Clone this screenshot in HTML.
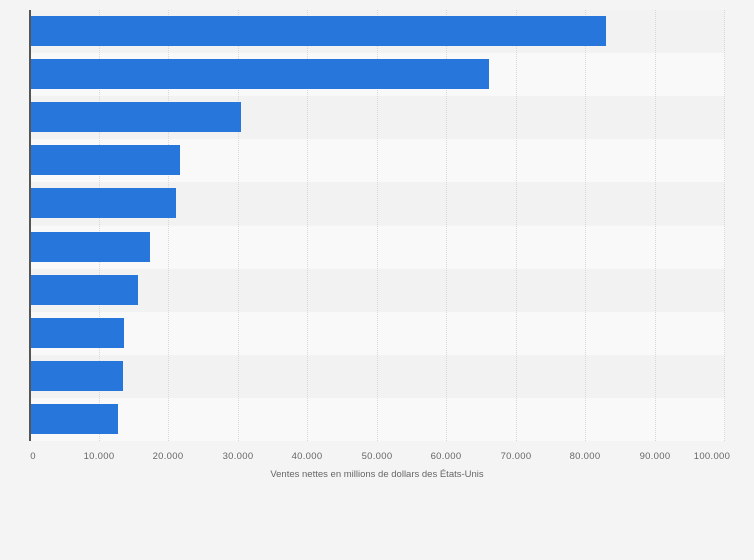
<!DOCTYPE html>
<html><head><style>
body{margin:0;width:754px;height:560px;background:#f4f4f4;font-family:"Liberation Sans",sans-serif;position:relative;overflow:hidden}
.band{position:absolute;left:30px;width:695px;height:43.1px}
.g{position:absolute;top:10px;height:431px;width:0;border-left:1px dotted #d8d8d8}
.bar{position:absolute;left:30px;height:30px;background:#2776dc}
.t{position:absolute;top:451px;font-size:9.5px;color:#666;width:60px;text-align:center;letter-spacing:0.3px}
</style></head><body>
<div class="band" style="top:10px;background:#f2f2f2"></div>
<div class="band" style="top:53.1px;background:#f9f9f9"></div>
<div class="band" style="top:96.2px;background:#f2f2f2"></div>
<div class="band" style="top:139.3px;background:#f9f9f9"></div>
<div class="band" style="top:182.4px;background:#f2f2f2"></div>
<div class="band" style="top:225.5px;background:#f9f9f9"></div>
<div class="band" style="top:268.6px;background:#f2f2f2"></div>
<div class="band" style="top:311.7px;background:#f9f9f9"></div>
<div class="band" style="top:354.8px;background:#f2f2f2"></div>
<div class="band" style="top:397.9px;background:#f9f9f9"></div>
<div class="g" style="left:98.5px"></div><div class="g" style="left:168px"></div><div class="g" style="left:237.5px"></div><div class="g" style="left:307px"></div><div class="g" style="left:376.5px"></div><div class="g" style="left:446px"></div><div class="g" style="left:515.5px"></div><div class="g" style="left:585px"></div><div class="g" style="left:654.5px"></div><div class="g" style="left:724px"></div>
<div class="bar" style="top:16px;width:576px"></div>
<div class="bar" style="top:59px;width:459px"></div>
<div class="bar" style="top:102px;width:211px"></div>
<div class="bar" style="top:145px;width:150px"></div>
<div class="bar" style="top:188px;width:146px"></div>
<div class="bar" style="top:232px;width:120px"></div>
<div class="bar" style="top:275px;width:108px"></div>
<div class="bar" style="top:318px;width:94px"></div>
<div class="bar" style="top:361px;width:93px"></div>
<div class="bar" style="top:404px;width:88px"></div>
<div style="position:absolute;left:29px;top:10px;width:2px;height:431px;background:#555"></div>
<div class="t" style="left:3px">0</div>
<div class="t" style="left:69px">10.000</div>
<div class="t" style="left:138px">20.000</div>
<div class="t" style="left:208px">30.000</div>
<div class="t" style="left:277px">40.000</div>
<div class="t" style="left:347px">50.000</div>
<div class="t" style="left:416px">60.000</div>
<div class="t" style="left:486px">70.000</div>
<div class="t" style="left:555px">80.000</div>
<div class="t" style="left:625px">90.000</div>
<div class="t" style="left:677px;width:70px">100.000</div>
<div style="position:absolute;top:469px;left:0;width:754px;text-align:center;font-size:9.5px;color:#666">Ventes nettes en millions de dollars des États-Unis</div>
</body></html>
